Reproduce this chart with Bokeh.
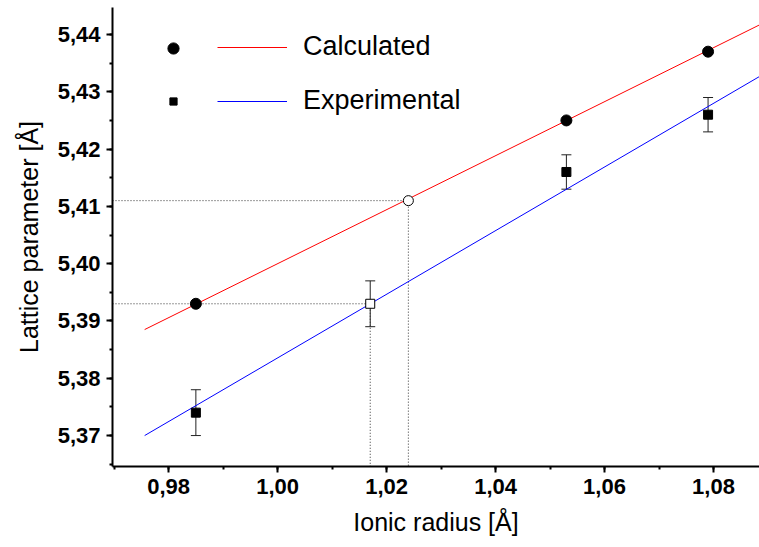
from bokeh.plotting import figure
from bokeh.models import (Range1d, SingleIntervalTicker, CustomJSTickFormatter, Whisker,
                          TeeHead, ColumnDataSource, Legend, LegendItem)
from bokeh.embed import file_html
from bokeh.resources import INLINE

# ---- data ----
calc_x = [0.985, 1.053, 1.079]
calc_y = [5.393, 5.425, 5.437]
exp_x = [0.985, 1.053, 1.079]
exp_y = [5.374, 5.416, 5.426]
exp_err = [0.004, 0.003, 0.003]
calc_interp_x = [1.024]
calc_interp_y = [5.411]
exp_interp_x = [1.017]
exp_interp_y = [5.393]
exp_interp_err = [0.004]
fit_x = [0.9756, 1.0885]
calc_fit_y = [5.3885, 5.4417]
exp_fit_y = [5.3700, 5.4327]
series_labels = ["Calculated", "Experimental"]
x_label = "Ionic radius [Å]"
y_label = "Lattice parameter [Å]"

X_START, X_END = 0.9697, 1.08844
Y_START, Y_END = 5.3646, 5.44471

FONT = "Liberation Sans"

p = figure(width=759, height=547, output_backend="svg", toolbar_location=None,
           x_range=Range1d(X_START, X_END), y_range=Range1d(Y_START, Y_END),
           min_border_left=112, min_border_right=0, min_border_top=7, min_border_bottom=81)
p.outline_line_color = None
p.xgrid.visible = False
p.ygrid.visible = False
p.background_fill_color = "white"

fmt = CustomJSTickFormatter(code="return tick.toFixed(2).replace('.', ',');")
p.xaxis.ticker = SingleIntervalTicker(interval=0.02, num_minor_ticks=2)
p.yaxis.ticker = SingleIntervalTicker(interval=0.01, num_minor_ticks=2)
for ax in (p.xaxis, p.yaxis):
    ax.formatter = fmt
    ax.axis_line_width = 2
    ax.major_tick_line_width = 2
    ax.minor_tick_line_width = 2
    ax.major_tick_out = 6
    ax.major_tick_in = 0
    ax.minor_tick_out = 3
    ax.minor_tick_in = 0
    ax.major_label_text_font = FONT
    ax.major_label_text_font_size = "22px"
    ax.major_label_text_font_style = "bold"
    ax.major_label_text_color = "black"
    ax.major_label_standoff = 6
    ax.axis_label_text_font = FONT
    ax.axis_label_text_font_size = "25px"
    ax.axis_label_text_font_style = "normal"
    ax.axis_label_text_color = "black"
p.xaxis.axis_label = x_label
p.yaxis.axis_label = y_label
p.xaxis.axis_label_standoff = 11
p.yaxis.axis_label_standoff = 12

# dotted guide lines
ref_x = exp_interp_x + calc_interp_x
ref_y = exp_interp_y + calc_interp_y
p.segment(x0=[X_START] * len(ref_x), y0=ref_y, x1=ref_x, y1=ref_y,
          line_color="#333333", line_width=1, line_dash="1 2")
p.segment(x0=ref_x, y0=ref_y, x1=ref_x, y1=[Y_START] * len(ref_x),
          line_color="#333333", line_width=1, line_dash="1 2")

# fit lines
r_calc_line = p.line(fit_x, calc_fit_y, line_color="#ff0000", line_width=1)
r_exp_line = p.line(fit_x, exp_fit_y, line_color="#0000ff", line_width=1)

# error bars
err_src = ColumnDataSource(dict(
    x=exp_x + exp_interp_x,
    lo=[y - e for y, e in zip(exp_y + exp_interp_y, exp_err + exp_interp_err)],
    hi=[y + e for y, e in zip(exp_y + exp_interp_y, exp_err + exp_interp_err)],
))
wh = Whisker(source=err_src, base="x", lower="lo", upper="hi", dimension="height",
             line_color="#222222", line_width=1,
             upper_head=TeeHead(size=10, line_color="#222222", line_width=1),
             lower_head=TeeHead(size=10, line_color="#222222", line_width=1))
p.add_layout(wh)

# markers
r_calc_pts = p.scatter(calc_x, calc_y, marker="circle", size=11, fill_color="black", line_color="black")
r_exp_pts = p.scatter(exp_x, exp_y, marker="square", size=9, fill_color="black", line_color="black")
p.scatter(calc_interp_x, calc_interp_y, marker="circle", size=10, fill_color="white",
          line_color="black", line_width=1)
p.scatter(exp_interp_x, exp_interp_y, marker="square", size=9, fill_color="white",
          line_color="black", line_width=1)

# legends (markers separated from lines as in the reference)
def bare_legend(**kw):
    lg = Legend(border_line_color=None, background_fill_alpha=0, padding=0, margin=0,
                label_text_font=FONT, **kw)
    return lg

leg_lines = bare_legend(items=[LegendItem(label=series_labels[0], renderers=[r_calc_line]),
                               LegendItem(label=series_labels[1], renderers=[r_exp_line])],
                        location=(105, 350), glyph_width=70, glyph_height=30, label_height=30,
                        spacing=23, label_standoff=16, label_text_font_size="27px",
                        label_text_color="black")
leg_c = bare_legend(items=[LegendItem(label=" ", renderers=[r_calc_pts])],
                    location=(47, 404), glyph_width=28, glyph_height=28, label_height=28,
                    label_text_font_size="8px")
leg_e = bare_legend(items=[LegendItem(label=" ", renderers=[r_exp_pts])],
                    location=(52, 356), glyph_width=18, glyph_height=18, label_height=18,
                    label_text_font_size="8px")
for lg in (leg_lines, leg_c, leg_e):
    p.add_layout(lg)

open("out.html", "w").write(file_html(p, INLINE))
